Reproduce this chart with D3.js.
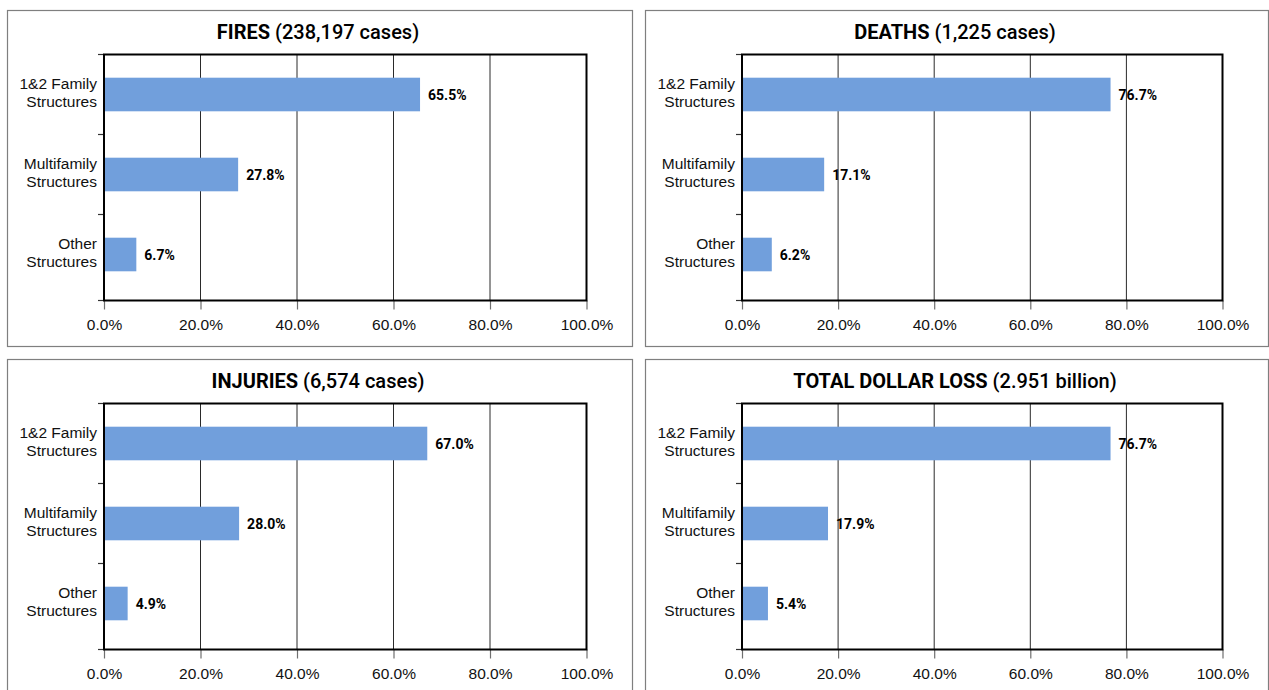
<!DOCTYPE html>
<html>
<head>
<meta charset="utf-8">
<script src="https://cdn.jsdelivr.net/npm/d3@7"></script>
<style>
  html, body { margin: 0; padding: 0; background: #fff; }
  svg { display: block; }
</style>
</head>
<body>
<svg id="chart" width="1269" height="690"></svg>
<script>
// Structure-type breakdown, shown as four small horizontal bar charts
const categories = ["1&2 Family Structures", "Multifamily Structures", "Other Structures"];

const panelTitles = ["FIRES", "DEATHS", "INJURIES", "TOTAL DOLLAR LOSS"];
const panelTotals = ["(238,197 cases)", "(1,225 cases)", "(6,574 cases)", "(2.951 billion)"];

const firesPct = [65.5, 27.8, 6.7];
const deathsPct = [76.7, 17.1, 6.2];
const injuriesPct = [67.0, 28.0, 4.9];
const dollarLossPct = [76.7, 17.9, 5.4];

const xTicks = [0, 20, 40, 60, 80, 100];

const seriesList = [firesPct, deathsPct, injuriesPct, dollarLossPct];

const svg = d3.select("#chart");

const panelW = [625, 623];
const panelX = [7.5, 645.5];
const panelY = [10.5, 359.5];
const panelH = 336;
const margin = { top: 44, left: 97, right: 46 };
const plotHeight = 246;
const bandSpan = 240;

const barColor = "#719fdc";
const labelFont = "'Liberation Sans', Arial, sans-serif";
const boldFont = "Roboto, 'Liberation Sans', sans-serif";
const fmt = d3.format(".1f");

seriesList.forEach((values, i) => {
  const col = i % 2, row = Math.floor(i / 2);
  const px = panelX[col], py = panelY[row], pw = panelW[col];

  const g = svg.append("g").attr("transform", `translate(${px},${py})`);

  // panel frame
  g.append("rect")
    .attr("x", 0).attr("y", 0)
    .attr("width", pw).attr("height", panelH)
    .attr("fill", "#fff")
    .attr("stroke", "#7f7f7f")
    .attr("stroke-width", 1.2);

  // title
  const title = g.append("text")
    .attr("x", pw / 2 - 2)
    .attr("y", 28.5)
    .attr("text-anchor", "middle")
    .attr("font-family", boldFont)
    .attr("font-size", 20)
    .attr("fill", "#000");
  title.append("tspan").attr("font-weight", "bold").text(panelTitles[i] + " ");
  title.append("tspan").attr("font-weight", 500).text(panelTotals[i]);

  const plotL = margin.left - 0.5;
  const plotR = pw - margin.right;
  const plotT = margin.top;
  const plotB = margin.top + plotHeight;

  const x = d3.scaleLinear().domain([0, 100]).range([plotL, plotR]);
  const y = d3.scaleBand().domain(categories)
    .range([plotT, plotT + bandSpan])
    .paddingInner(0.58).paddingOuter(0.29);

  // vertical gridlines
  g.append("g")
    .selectAll("line")
    .data(xTicks.slice(1, -1))
    .join("line")
    .attr("x1", d => x(d)).attr("x2", d => x(d))
    .attr("y1", plotT).attr("y2", plotB)
    .attr("stroke", "#2a2a2a")
    .attr("stroke-width", 1);

  // bars
  g.append("g")
    .selectAll("rect")
    .data(values)
    .join("rect")
    .attr("x", x(0))
    .attr("y", (d, k) => y(categories[k]))
    .attr("width", d => x(d) - x(0))
    .attr("height", y.bandwidth())
    .attr("fill", barColor);

  // value labels
  g.append("g")
    .selectAll("text")
    .data(values)
    .join("text")
    .attr("x", d => x(d) + 8)
    .attr("y", (d, k) => y(categories[k]) + y.bandwidth() / 2)
    .attr("dy", "0.36em")
    .attr("font-family", boldFont)
    .attr("font-weight", "bold")
    .attr("font-size", 14)
    .attr("fill", "#000")
    .text(d => fmt(d) + "%");

  // x axis
  const xAxis = d3.axisBottom(x)
    .tickValues(xTicks)
    .tickSize(9)
    .tickPadding(9)
    .tickFormat(d => fmt(d) + "%");
  const xg = g.append("g").attr("transform", `translate(0,${plotB})`).call(xAxis);
  xg.select(".domain").remove();
  xg.selectAll(".tick line").attr("stroke", "#6f6f6f").attr("stroke-width", 1.2);
  xg.selectAll(".tick text")
    .attr("font-family", labelFont)
    .attr("font-size", 15.5)
    .attr("fill", "#111");

  // category axis ticks at band boundaries
  const bounds = [plotT, ...categories.slice(1).map(c => y(c) - y.step() * y.paddingInner() / 2), plotB];
  g.append("g")
    .selectAll("line")
    .data(bounds)
    .join("line")
    .attr("x1", plotL - 6).attr("x2", plotL)
    .attr("y1", d => d).attr("y2", d => d)
    .attr("stroke", "#333")
    .attr("stroke-width", 1.2);

  // category labels, two lines each
  const catG = g.append("g")
    .selectAll("text")
    .data(categories)
    .join("text")
    .attr("text-anchor", "end")
    .attr("font-family", labelFont)
    .attr("font-size", 15.5)
    .attr("fill", "#111")
    .attr("transform", d => `translate(${plotL - 7},${y(d) + y.bandwidth() / 2 - 2})`);
  catG.each(function (d) {
    const cut = d.lastIndexOf(" ");
    const lines = [d.slice(0, cut), d.slice(cut + 1)];
    d3.select(this).selectAll("tspan")
      .data(lines)
      .join("tspan")
      .attr("x", 0)
      .attr("y", (l, j) => (j - 0.5) * 18.4)
      .attr("dy", "0.36em")
      .text(l => l);
  });

  // plot frame
  g.append("rect")
    .attr("x", plotL).attr("y", plotT)
    .attr("width", plotR - plotL).attr("height", plotB - plotT)
    .attr("fill", "none")
    .attr("stroke", "#000")
    .attr("stroke-width", 2);
});
</script>
</body>
</html>
